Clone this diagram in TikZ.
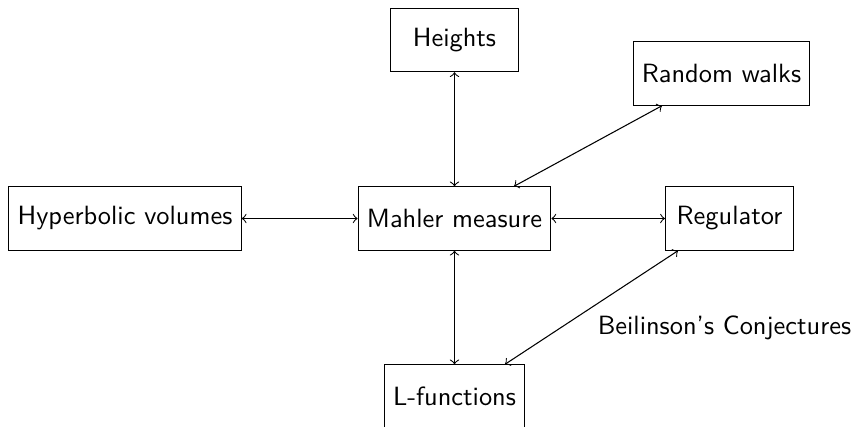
\documentclass[tikz,border=0pt]{standalone}
\usetikzlibrary{calc}
\begin{document}
\begin{tikzpicture}[x=0.3788pt,y=-0.3788pt,
  box/.style={draw, font=\sffamily, minimum width=48.5pt, minimum height=24pt, inner sep=3.33pt},
  link/.style={<->},
  lbl/.style={font=\sffamily, inner sep=0pt}]
\useasboundingbox (0,0) rectangle (858,426);
\node[box] (h) at (454.5,40) {Heights};
\node[box] (rw) at (721.5,73.5) {Random walks};
\node[box] (hv) at (125,218.5) {Hyperbolic volumes};
\node[box] (m) at (454.5,218.5) {Mahler measure};
\node[box] (r) at (729.5,218.5) {Regulator};
\node[box] (l) at (454.5,396.5) {L-functions};
\node[lbl] (b) at (724.5,328) {Beilinson's Conjectures};
\draw[link] (h) -- (m);
\draw[link] (hv) -- (m);
\draw[link] (m) -- (r);
\draw[link] (m) -- (l);
\draw[link] ($(rw.south)+(-59.5,0)$) -- ($(m.north)+(59.5,0)$);
\draw[link] ($(r.south)+(-51.5,0)$) -- ($(l.north)+(50.5,0)$);
\end{tikzpicture}
\end{document}
